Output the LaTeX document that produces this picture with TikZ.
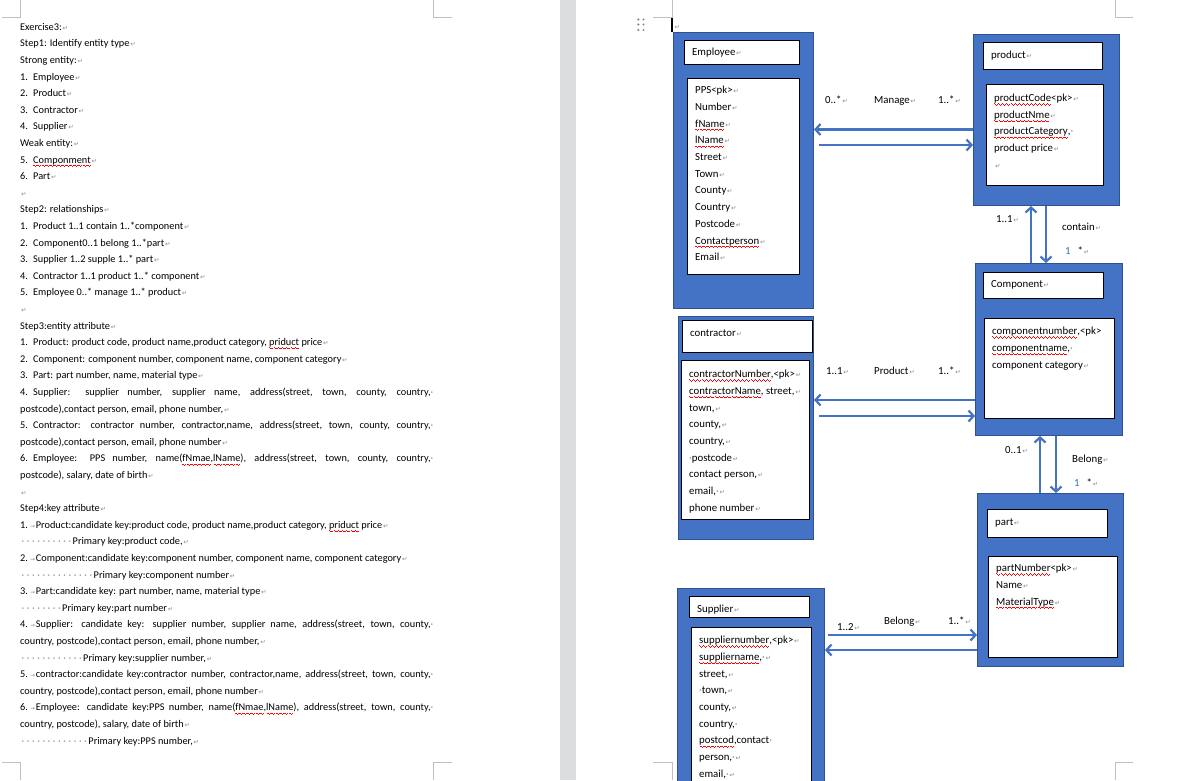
\documentclass[tikz,border=0pt]{standalone}
\usepackage{fontspec}
\setmainfont{Carlito}
\newfontfamily\symf{DejaVu Sans}
\usetikzlibrary{arrows.meta}

\definecolor{boxblue}{HTML}{4472C4}
\definecolor{boxedge}{HTML}{2F528F}
\definecolor{markgray}{HTML}{8C8C8C}
\definecolor{gapgray}{HTML}{DCDDDE}
\definecolor{cropgray}{HTML}{BFBFBF}
\definecolor{numblue}{HTML}{2E75B6}

% formatting marks: paragraph end, tab, visible space
\newcommand\rt{{\color{markgray}\fontsize{6.5pt}{6.5pt}\symf\kern0.8pt ↵}}
\newcommand\tb{{\color{markgray}\fontsize{6pt}{6pt}\symf →}}
\newcommand\spc{{\color{markgray}·}}
% red wavy underline of the spell checker, built from small rules
\newsavebox\sqb
\newcommand\waveunit{\hbox{\rule[-2.4pt]{1pt}{0.7pt}\rule[-3.0pt]{1pt}{0.7pt}\rule[-3.5pt]{1pt}{0.7pt}\rule[-3.0pt]{1pt}{0.7pt}}}
\newcommand\sq[1]{\sbox\sqb{#1}\rlap{\usebox\sqb}{\color{red}\hbox to \wd\sqb{\xleaders\waveunit\hfil}}}
% row of visible spaces before the indented lines
\newcommand\dotlead[1]{{\color{markgray}\foreach\k in {1,...,#1}{\makebox[5.25pt][c]{·}}}}
% list numbers
\newcommand\num[1]{\makebox[13pt][l]{#1}}
\newcommand\numt[1]{\makebox[15.7pt][l]{#1\kern2.2pt\tb}}
% one text line on the left page
\newcommand\Lline[3]{\node[ln] (#1) at (20,{30.2+16.6*#2}) {#3};}

\tikzset{
  ln/.style={anchor=base west, inner sep=0pt, font=\fontsize{10.3pt}{12pt}\selectfont},
  outer/.style={draw=boxedge, line width=1pt, fill=boxblue, anchor=north west, inner sep=0pt},
  titlebox/.style={draw=black, line width=1.2pt, fill=white, anchor=north west, inner sep=0pt},
  attrbox/.style={draw=black, line width=1.2pt, fill=white, anchor=north west, inner sep=0pt},
  dtext/.style={anchor=base west, inner sep=0pt, font=\fontsize{10.8pt}{13pt}\selectfont},
  attrs/.style={anchor=north west, inner sep=0pt, align=left, font=\fontsize{10.8pt}{16.7pt}\selectfont},
  rel/.style={draw=boxblue, line width=2.2pt, -{Straight Barb[length=5pt,width=11pt]}},
  crop/.style={draw=cropgray, line width=0.9pt},
}

\begin{document}
\begin{tikzpicture}[x=1pt,y=-1pt]
\useasboundingbox (0,0) rectangle (1188,780);
\clip (0,0) rectangle (1188,780);
\fill[white] (0,0) rectangle (1188,780);

% gap between the two pages
\fill[gapgray] (560,0) rectangle (576,780);

% corner marks of the text areas
\draw[crop] (20,0) -- (20,17) -- (2,17);
\draw[crop] (433,0) -- (433,17) -- (452,17);
\draw[crop] (2,762) -- (20,762) -- (20,780);
\draw[crop] (452,762) -- (433,762) -- (433,780);
\draw[crop] (672,0) -- (672,17) -- (653,17);
\draw[crop] (1115,0) -- (1115,17) -- (1133,17);
\draw[crop] (653,762) -- (672,762) -- (672,780);
\draw[crop] (1133,762) -- (1115,762) -- (1115,780);

% ---------------- left page ----------------
\Lline{L0}{0}{Exercise3:\rt}
\Lline{L1}{1}{Step1: Identify entity type\rt}
\Lline{L2}{2}{Strong entity:\rt}
\Lline{L3}{3}{\num{1.}Employee\rt}
\Lline{L4}{4}{\num{2.}Product\rt}
\Lline{L5}{5}{\num{3.}Contractor\rt}
\Lline{L6}{6}{\num{4.}Supplier\rt}
\Lline{L7}{7}{Weak entity:\rt}
\Lline{L8}{8}{\num{5.}\sq{Componment}\rt}
\Lline{L9}{9}{\num{6.}Part\rt}
\Lline{L10}{10}{\rt}
\Lline{L11}{11}{Step2: relationships\rt}
\Lline{L12}{12}{\num{1.}Product 1..1 contain 1..*component\rt}
\Lline{L13}{13}{\num{2.}Component0..1 belong 1..*part\rt}
\Lline{L14}{14}{\num{3.}Supplier 1..2 supple 1..* part\rt}
\Lline{L15}{15}{\num{4.}Contractor 1..1 product 1..* component\rt}
\Lline{L16}{16}{\num{5.}Employee 0..* manage 1..* product\rt}
\Lline{L17}{17}{\rt}
\Lline{L18}{18}{Step3:entity attribute\rt}
\Lline{L19}{19}{\num{1.}Product: product code, product name,product category, \sq{priduct} price\rt}
\Lline{L20}{20}{\num{2.}Component: component number, component name, component category\rt}
\Lline{L21}{21}{\num{3.}Part: part number, name, material type\rt}
\Lline{L22}{22}{\makebox[413pt][s]{\num{4.}Supplier: supplier number, supplier name, address(street, town, county, country,\spc}}
\Lline{L23}{23}{postcode),contact person, email, phone number,\rt}
\Lline{L24}{24}{\makebox[413pt][s]{\num{5.}Contractor: contractor number, contractor,name, address(street, town, county, country,\spc}}
\Lline{L25}{25}{postcode),contact person, email, phone number\rt}
\Lline{L26}{26}{\makebox[413pt][s]{\num{6.}Employee: PPS number, name(\sq{fNmae},\sq{lName}), address(street, town, county, country,\spc}}
\Lline{L27}{27}{postcode), salary, date of birth\rt}
\Lline{L28}{28}{\rt}
\Lline{L29}{29}{Step4:key attribute\rt}
\Lline{L30}{30}{\numt{1.}Product:candidate key:product code, product name,product category, \sq{priduct} price\rt}
\Lline{L31}{31}{\dotlead{10}Primary key:product code,\rt}
\Lline{L32}{32}{\numt{2.}Component:candidate key:component number, component name, component category\rt}
\Lline{L33}{33}{\dotlead{14}Primary key:component number\rt}
\Lline{L34}{34}{\numt{3.}Part:candidate key: part number, name, material type\rt}
\Lline{L35}{35}{\dotlead{8}Primary key:part number\rt}
\Lline{L36}{36}{\makebox[413pt][s]{\numt{4.}Supplier: candidate key: supplier number, supplier name, address(street, town, county,\spc}}
\Lline{L37}{37}{country, postcode),contact person, email, phone number,\rt}
\Lline{L38}{38}{\dotlead{12}Primary key:supplier number,\rt}
\Lline{L39}{39}{\makebox[413pt][s]{\numt{5.}contractor:candidate key:contractor number, contractor,name, address(street, town, county,\spc}}
\Lline{L40}{40}{country, postcode),contact person, email, phone number\rt}
\Lline{L41}{41}{\makebox[413pt][s]{\numt{6.}Employee: candidate key:PPS number, name(\sq{fNmae},\sq{lName}), address(street, town, county,\spc}}
\Lline{L42}{42}{country, postcode), salary, date of birth\rt}
\Lline{L43}{43}{\dotlead{13}Primary key:PPS number,\rt}

% ---------------- right page ----------------
% drag handle and cursor of the drawing canvas
\foreach \hx in {638.3,643.5}
  \foreach \hy in {19.5,24.5,30}
    \fill[markgray] (\hx,\hy) circle (1.2pt);
\draw[line width=1.6pt] (672,18) -- (672,32);
\node[dtext] (cur) at (673.5,29) {\rt};

% Employee
\node[outer, minimum width=140pt, minimum height=276pt] (emp) at (673,32) {};
\node[titlebox, minimum width=115pt, minimum height=24pt] (empT) at (684,40) {};
\node[dtext] (empN) at (692,55.5) {Employee\rt};
\node[attrbox, minimum width=112pt, minimum height=196pt] (empA) at (687,78) {};
\node[attrs] (empL) at (695,83.5) {\rule{0pt}{10pt}PPS<pk>\rt\\ Number\rt\\ \sq{fName}\rt\\ \sq{lName}\rt\\ Street\rt\\ Town\rt\\ County\rt\\ Country\rt\\ Postcode\rt\\ \sq{Contactperson}\rt\\ Email\rt};

% product
\node[outer, minimum width=146pt, minimum height=171pt] (prod) at (973,34) {};
\node[titlebox, minimum width=119pt, minimum height=27pt] (prodT) at (983,42) {};
\node[dtext] (prodN) at (991,58.5) {product\rt};
\node[attrbox, minimum width=117pt, minimum height=101pt] (prodA) at (986,84) {};
\node[attrs, font=\fontsize{10.8pt}{16.6pt}\selectfont] (prodL) at (994,91.5) {\rule{0pt}{10pt}\sq{productCode}<pk>\rt\\ \sq{productNme}\rt\\ \sq{productCategory},\spc\\ product price\rt\\ \rt};

% Component
\node[outer, minimum width=147pt, minimum height=172pt] (comp) at (975,263) {};
\node[titlebox, minimum width=120pt, minimum height=26pt] (compT) at (983,272) {};
\node[dtext] (compN) at (991,287.5) {Component\rt};
\node[attrbox, minimum width=130pt, minimum height=100pt] (compA) at (984,318) {};
\node[attrs] (compL) at (992,324.5) {\rule{0pt}{10pt}\sq{componentnumber},<pk>\\ \sq{componentname},\spc\\ component category\rt};

% contractor
\node[outer, minimum width=135pt, minimum height=223pt] (cont) at (678,316) {};
\node[titlebox, minimum width=130pt, minimum height=32pt] (contT) at (682,320) {};
\node[dtext] (contN) at (690,336.5) {contractor\rt};
\node[attrbox, minimum width=128pt, minimum height=159pt] (contA) at (681,360) {};
\node[attrs] (contL) at (689,367.5) {\rule{0pt}{10pt}\sq{contractorNumber},<pk>\rt\\ \sq{contractorName}, street,\rt\\ town,\rt\\ county,\rt\\ country,\rt\\ \spc postcode\rt\\ contact person,\rt\\ email,\spc\rt\\ phone number\rt};

% part
\node[outer, minimum width=146pt, minimum height=173pt] (part) at (977,493) {};
\node[titlebox, minimum width=120pt, minimum height=28pt] (partT) at (987,509) {};
\node[dtext] (partN) at (995,525.5) {part\rt};
\node[attrbox, minimum width=129pt, minimum height=101pt] (partA) at (988,556) {};
\node[attrs] (partL) at (996,561.5) {\rule{0pt}{10pt}\sq{partNumber}<pk>\rt\\ Name\rt\\ \sq{MaterialType}\rt};

% Supplier
\node[outer, minimum width=147pt, minimum height=200pt] (supp) at (677,588) {};
\node[titlebox, minimum width=120pt, minimum height=21pt] (suppT) at (689,596) {};
\begin{scope}
  \clip (690,597) rectangle (808,613.2);
  \node[dtext] (suppN) at (697,612) {Supplier\rt};
\end{scope}
\node[attrbox, minimum width=120pt, minimum height=170pt] (suppA) at (691,627) {};
\node[attrs] (suppL) at (699,633.5) {\rule{0pt}{10pt}\sq{suppliernumber},<pk>\rt\\ \sq{suppliername},\spc\rt\\ street,\rt\\ \spc town,\rt\\ county,\rt\\ country,\spc\\ \sq{postcod},contact\spc\\ person,\spc\rt\\ email,\spc\rt};

% Manage: Employee -- product
\draw[rel] (prod.west |- 0,129.5) -- (emp.east |- 0,129.5);
\draw[rel] ([xshift=5pt]emp.east |- 0,145) -- (prod.west |- 0,145);
\node[dtext] (mA) at (825,103.5) {0..*\rt};
\node[dtext] (mB) at (874,103.5) {Manage\rt};
\node[dtext] (mC) at (938,103.5) {1..*\rt};

% contain: product -- Component
\draw[rel] (comp.north -| 1031,0) -- (prod.south -| 1031,0);
\draw[rel] (prod.south -| 1046,0) -- (comp.north -| 1046,0);
\node[dtext] (cA) at (996,222.5) {1..1\rt};
\node[dtext] (cB) at (1062,230.5) {contain\rt};
\node[dtext] (cC) at (1065,254.5) {\textcolor{numblue}{1}\hspace{7pt}*\rt};

% Product: contractor -- Component
\draw[rel] (comp.west |- 0,400) -- (cont.east |- 0,400);
\draw[rel] ([xshift=5pt]cont.east |- 0,416) -- (comp.west |- 0,416);
\node[dtext] (pA) at (826,374.5) {1..1\rt};
\node[dtext] (pB) at (874,374.5) {Product\rt};
\node[dtext] (pC) at (938,374.5) {1..*\rt};

% Belong: Component -- part
\draw[rel] (part.north -| 1040,0) -- (comp.south -| 1040,0);
\draw[rel] (comp.south -| 1056,0) -- (part.north -| 1056,0);
\node[dtext] (bA) at (1005,453.5) {0..1\rt};
\node[dtext] (bB) at (1072,462.5) {Belong\rt};
\node[dtext] (bC) at (1074,486.5) {\textcolor{numblue}{1}\hspace{7pt}*\rt};

% Belong: Supplier -- part
\draw[rel] ([xshift=3pt]supp.east |- 0,635) -- (part.west |- 0,635);
\draw[rel] (part.west |- 0,650) -- (supp.east |- 0,650);
\node[dtext] (sA) at (837,630.5) {1..2\rt};
\node[dtext] (sB) at (884,624.5) {Belong\rt};
\node[dtext] (sC) at (948,624.5) {1..*\rt};
\end{tikzpicture}
\end{document}
